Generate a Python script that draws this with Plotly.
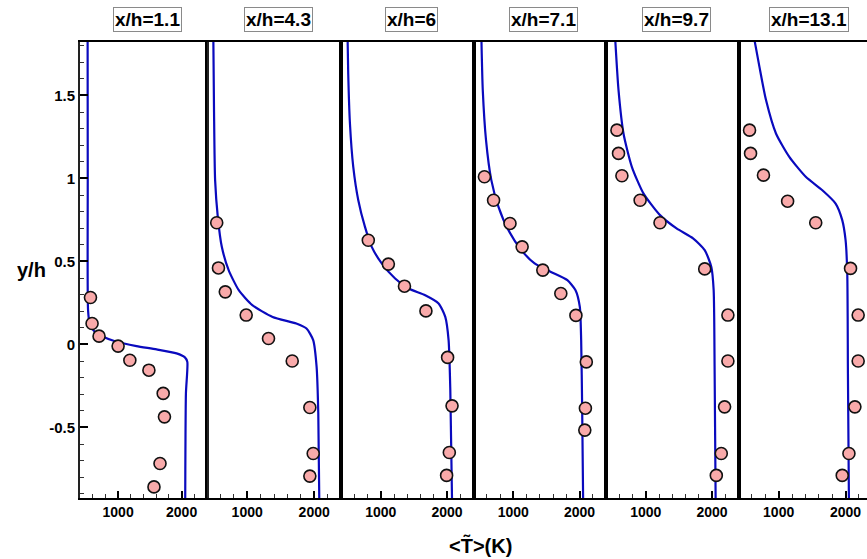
import plotly.graph_objects as go

titles = ["x/h=1.1", "x/h=4.3", "x/h=6", "x/h=7.1", "x/h=9.7", "x/h=13.1"]

# Experimental mean temperature (K) and y/h
exp_T1 = [565, 590, 700, 1000, 1185, 1485, 1710, 1730, 1660, 1565]
exp_y1 = [0.283, 0.126, 0.05, -0.01, -0.095, -0.155, -0.295, -0.436, -0.717, -0.858]
exp_T2 = [545, 571, 673, 985, 1318, 1672, 1935, 1985, 1935]
exp_y2 = [0.733, 0.461, 0.317, 0.177, 0.036, -0.100, -0.380, -0.657, -0.793]
exp_T3 = [812, 1115, 1358, 1682, 2009, 2076, 2035, 1994]
exp_y3 = [0.628, 0.484, 0.351, 0.202, -0.078, -0.37, -0.651, -0.789]
exp_T4 = [565, 703, 951, 1134, 1446, 1718, 1946, 2103, 2089, 2080]
exp_y4 = [1.010, 0.869, 0.729, 0.588, 0.448, 0.307, 0.175, -0.105, -0.384, -0.516]
exp_T5 = [565, 589, 640, 915, 1215, 1890, 2240, 2240, 2190, 2140, 2065]
exp_y5 = [1.291, 1.151, 1.016, 0.869, 0.733, 0.455, 0.177, -0.1, -0.376, -0.657, -0.789]
exp_T6 = [565, 580, 773, 1134, 1554, 2074, 2188, 2188, 2139, 2050, 1950]
exp_y6 = [1.291, 1.151, 1.020, 0.863, 0.733, 0.458, 0.177, -0.1, -0.376, -0.657, -0.789]

# Simulation profiles
sim_T1 = [520, 522, 527, 553, 632, 763, 975, 1290, 1606, 1921, 2052, 2090, 2068, 2057]
sim_y1 = [1.83, 1.0, 0.207, 0.126, 0.076, 0.046, 0.016, -0.010, -0.030, -0.054, -0.078, -0.105, -0.295, -0.94]
sim_T2 = [495, 505, 521, 561, 621, 723, 874, 1076, 1379, 1733, 1885, 1985, 2036, 2061, 2076]
sim_y2 = [1.83, 1.4, 0.99, 0.769, 0.588, 0.448, 0.327, 0.237, 0.166, 0.126, 0.096, 0.026, -0.135, -0.416, -0.94]
sim_T3 = [500, 509, 535, 585, 661, 762, 864, 1015, 1217, 1418, 1671, 1873, 1974, 2024, 2050, 2076]
sim_y3 = [1.833, 1.632, 1.331, 1.07, 0.869, 0.708, 0.588, 0.488, 0.397, 0.337, 0.297, 0.247, 0.166, 0.026, -0.275, -0.94]
sim_T4 = [520, 540, 589, 669, 777, 926, 1123, 1322, 1569, 1817, 1940, 2005, 2025, 2040, 2055]
sim_y4 = [1.833, 1.532, 1.231, 0.99, 0.829, 0.689, 0.568, 0.488, 0.437, 0.387, 0.327, 0.226, 0.026, -0.376, -0.94]
sim_T5 = [540, 589, 664, 790, 965, 1215, 1465, 1714, 1890, 1990, 2025, 2040, 2055]
sim_y5 = [1.833, 1.532, 1.271, 1.07, 0.91, 0.779, 0.699, 0.639, 0.568, 0.467, 0.327, -0.175, -0.94]
sim_T6 = [639, 713, 811, 960, 1159, 1405, 1653, 1851, 1950, 2000, 2025, 2035, 2050]
sim_y6 = [1.833, 1.672, 1.472, 1.271, 1.13, 1.01, 0.929, 0.849, 0.749, 0.628, 0.428, -0.175, -0.94]

y_tickvals = [-0.5, 0, 0.5, 1, 1.5]
y_ticktext = ["-0.5", "0", "0.5", "1", "1.5"]

exp_T = [exp_T1, exp_T2, exp_T3, exp_T4, exp_T5, exp_T6]
exp_y = [exp_y1, exp_y2, exp_y3, exp_y4, exp_y5, exp_y6]
sim_T = [sim_T1, sim_T2, sim_T3, sim_T4, sim_T5, sim_T6]
sim_y = [sim_y1, sim_y2, sim_y3, sim_y4, sim_y5, sim_y6]

W, H = 867, 559
L, R, T, B = 80, 0, 42, 61
pw = W - L - R
ph = H - T - B
edges = [80, 207, 341, 473.5, 606, 738.5, 867]
domains = [[(edges[i] - L) / pw, (edges[i + 1] - L) / pw] for i in range(6)]
xranges = [[400, 2400]] * 5 + [[400, 2320]]
yrange = [-0.925, 1.822]

FONT = "Liberation Sans, Arial, sans-serif"

fig = go.Figure()
for i in range(6):
    xa = "x" if i == 0 else f"x{i+1}"
    ya = "y" if i == 0 else f"y{i+1}"
    fig.add_trace(go.Scatter(x=sim_T[i], y=sim_y[i], xaxis=xa, yaxis=ya, mode="lines",
                             line=dict(color="#0A0ABE", width=2.2, shape="spline", smoothing=0.6),
                             showlegend=False, hoverinfo="skip"))
    fig.add_trace(go.Scatter(x=exp_T[i], y=exp_y[i], xaxis=xa, yaxis=ya, mode="markers",
                             marker=dict(size=12, color="#F9AAAA", line=dict(color="#111111", width=1.6)),
                             showlegend=False))

layout = dict(width=W, height=H, margin=dict(l=L, r=R, t=T, b=B),
              paper_bgcolor="white", plot_bgcolor="white",
              font=dict(family=FONT, color="black"))

for i in range(6):
    sfx = "" if i == 0 else str(i + 1)
    layout["xaxis" + sfx] = dict(
        domain=domains[i], range=xranges[i], anchor="y" + sfx,
        showline=True, linecolor="black", linewidth=2, mirror=True,
        ticks="inside", ticklen=7, tickwidth=1.5, tickcolor="black",
        tick0=0, dtick=1000, showgrid=False, zeroline=False,
        tickfont=dict(size=14, family=FONT, weight="bold"),
        minor=dict(ticks="inside", dtick=200, tick0=0, ticklen=4, tickcolor="#333", tickwidth=1),
    )
    if i == 0:
        layout["yaxis"] = dict(
            domain=[0, 1], range=yrange, anchor="x",
            showline=True, linecolor="#222", linewidth=2, mirror=True,
            ticks="inside", ticklen=8, tickwidth=1.5, tickcolor="black",
            tickvals=y_tickvals, ticktext=y_ticktext,
            showgrid=False, zeroline=False,
            tickfont=dict(size=15, family=FONT, weight="bold"),
            minor=dict(ticks="inside", dtick=0.1, tick0=0, ticklen=4, tickcolor="#333", tickwidth=1),
        )
    else:
        layout["yaxis" + sfx] = dict(
            domain=[0, 1], range=yrange, anchor="x" + sfx,
            showline=True, linecolor="black", linewidth=1.5, mirror=(i < 5),
            ticks="", showticklabels=False, showgrid=False, zeroline=False,
        )

annotations = []
for i in range(6):
    sfx = "" if i == 0 else str(i + 1)
    annotations.append(dict(text=titles[i], xref="x" + sfx, yref="paper",
                            x=1460, y=(H - B - 20) / ph,
                            xanchor="center", yanchor="middle", showarrow=False,
                            font=dict(size=19, family=FONT, weight="bold"),
                            bordercolor="#8a8a8a", borderwidth=1, borderpad=1, bgcolor="white"))
annotations.append(dict(text="y/h", xref="paper", yref="paper", x=(31 - L) / pw, y=0.5,
                        xanchor="center", yanchor="middle", showarrow=False,
                        font=dict(size=20, family=FONT, weight="bold")))
annotations.append(dict(text="<T\u0303>(K)", xref="paper", yref="paper", x=(481 - L) / pw,
                        y=-(545 - (H - B)) / ph,
                        xanchor="center", yanchor="middle", showarrow=False,
                        font=dict(size=20, family=FONT, weight="bold")))
layout["annotations"] = annotations

fig.update_layout(**layout)
fig.write_html("out.html")
